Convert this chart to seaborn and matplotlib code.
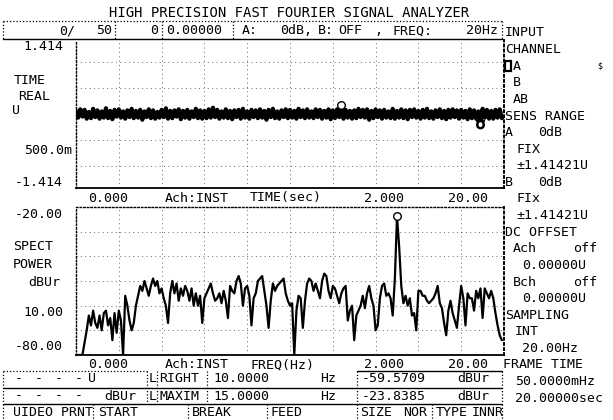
import numpy as np
import pandas as pd
import matplotlib
matplotlib.use("Agg")
import matplotlib.pyplot as plt
import seaborn as sns
from matplotlib.lines import Line2D
from matplotlib.patches import Rectangle

# ---------------- data ----------------
TIME_STEP = 0.1          # s
time_cv = [              # instantaneous voltage, centivolts
    6, -7, 9, -5, 8, -9, 4, -8, 10, -6, 7, -9, 5, -7, 11, -8, 6, -10, 8, -5,
    9, -7, 5, -9, 7, -6, 10, -8, 6, -7, 8, -11, 5, -6, 9, -8, 7, -9, 4, -7,
    8, -6, 11, -9, 6, -8, 7, -5, 9, -10, 6, -7, 8, -9, 5, -6, 10, -8, 7, -9,
    6, -8, 9, -7, 12, -6, 8, -9, 5, -7, 9, -8, 6, -10, 7, -6, 8, -9, 10, -7,
    5, -9, 8, -6, 7, -8, 9, -7, 6, -11, 8, -6, 10, -8, 5, -9, 7, -6, 9, -8,
    8, -7, 6, -9, 10, -6, 7, -8, 9, -7, 5, -8, 9, -6, 8, -9, 6, -7, 9, -10,
    7, -8, 9, -6, 13, -9, 8, -7, 6, -9, 7, -8, 10, -6, 8, -7, 9, -11, 6, -8,
    9, -6, 7, -9, 8, -7, 5, -8, 10, -9, 6, -7, 9, -8, 7, -10, 8, -6, 9, -7,
    6, -9, 8, -7, 10, -8, 5, -9, 7, -6, 9, -8, 6, -10, 8, -7, 9, -6, 7, -9,
    8, -7, 6, -10, 9, -8, 7, -9, 5, -12, 10, -7, 8, -9, 6, -9, 8, -7, 9, -8,
]
FREQ_STEP = 0.05         # Hz
spect_dbvr = [
    -80, -80, -80, -80, -75, -70, -64, -68, -62, -67,
    -69, -64, -70, -63, -62, -68, -65, -74, -63, -71,
    -62, -66, -80, -56, -60, -66, -70, -67, -60, -56,
    -52, -54, -50, -53, -56, -52, -49, -52, -50, -55,
    -53, -57, -60, -67, -55, -50, -55, -51, -58, -53,
    -56, -52, -54, -58, -53, -60, -55, -60, -56, -67,
    -57, -55, -53, -51, -55, -58,
    -57, -55, -59, -54, -58, -65, -52, -54, -55, -50,
    -48, -51, -60, -53, -52, -56, -68, -57, -55, -50,
    -49, -48, -54, -60, -69, -58, -51, -54, -52, -51,
    -50, -49, -55, -58, -60, -59, -80, -62, -56, -57,
    -69, -58, -51, -49, -50, -54, -51, -54, -57, -50,
    -47, -48, -54, -57, -52, -53, -56, -59, -55, -53,
    -52, -66, -62, -60, -74, -64, -62, -60, -56,
    -61, -55, -52, -57, -60, -70, -68, -57, -52, -51,
    -56, -55, -57, -64, -49, -23.84, -36, -52, -59, -56,
    -60, -57, -64, -63, -70, -54, -54, -56, -56, -58,
    -59, -58, -57, -55, -52, -59, -61, -67, -72, -62,
    -58, -63, -66, -69, -60, -52, -57, -68, -55, -57,
    -57, -62, -54, -57, -53, -65, -53, -55, -57, -54,
    -57, -63, -68, -72, -74,
]
time_marks_t = [12.4, 18.9]
time_marks_v = [0.17, -0.19]
spect_mark_f = [7.5]
spect_mark_db = [-23.84]

# ---------------- style ----------------
sns.set_style("white")
plt.rcParams['font.family'] = ['DejaVu Sans Mono', 'DejaVu Sans']
W, H = 613, 420
FS = 9.5
fig = plt.figure(figsize=(W / 100, H / 100), dpi=100)
fig.patch.set_facecolor("white")

def rect(l, t, r, b):
    return [l / W, 1 - b / H, (r - l) / W, (b - t) / H]

def T(x, y, s, ha="left", fs=FS, **kw):
    fig.text(x / W, 1 - y / H, s, ha=ha, va="center", fontsize=fs, color="k", **kw)

DOT = (0, (1, 1.6))
def L(x0, y0, x1, y1, ls="-", lw=0.9):
    fig.add_artist(Line2D([x0 / W, x1 / W], [1 - y0 / H, 1 - y1 / H],
                          color="k", lw=lw, ls=ls, transform=fig.transFigure))

ax1 = fig.add_axes(rect(76, 40, 504, 188))
ax2 = fig.add_axes(rect(76, 207, 504, 355))

df_t = pd.DataFrame({"t": np.arange(len(time_cv)) * TIME_STEP,
                     "v": np.array(time_cv) / 100.0})
df_f = pd.DataFrame({"f": np.arange(len(spect_dbvr)) * FREQ_STEP,
                     "db": spect_dbvr})

sns.lineplot(data=df_t, x="t", y="v", ax=ax1, color="k", lw=3.0, estimator=None)
sns.scatterplot(x=time_marks_t[:1], y=time_marks_v[:1], ax=ax1, marker="o",
                s=30, facecolors="white", edgecolor="k", linewidth=1.0, zorder=5)
ax1.plot(time_marks_t[1:], time_marks_v[1:], marker=r"$\mho$", ms=6,
         color="k", ls="none", zorder=5)

sns.lineplot(data=df_f, x="f", y="db", ax=ax2, color="k", lw=1.6, estimator=None)
sns.scatterplot(x=spect_mark_f, y=spect_mark_db, ax=ax2, marker="o",
                s=30, facecolors="white", edgecolor="k", linewidth=1.0, zorder=5)

ax1.set_xlim(0, 20); ax1.set_ylim(-1.414, 1.414)
ax1.set_xticks(np.arange(0, 21, 2)); ax1.set_yticks([-1, -0.5, 0, 0.5, 1])
ax2.set_xlim(0, 10); ax2.set_ylim(-80, -20)
ax2.set_xticks(np.arange(0, 11, 1)); ax2.set_yticks(np.arange(-80, -19, 10))

for ax in (ax1, ax2):
    ax.set_xlabel(""); ax.set_ylabel("")
    ax.set_xticklabels([]); ax.set_yticklabels([])
    ax.tick_params(length=0)
    ax.grid(True, color="k", ls=(0, (1, 3.5)), lw=0.7, alpha=0.6)
    ax.set_facecolor("white")
    for s in ("left", "right", "top"):
        ax.spines[s].set_linestyle(DOT)
        ax.spines[s].set_linewidth(1.0)
        ax.spines[s].set_color("k")
    ax.spines["bottom"].set_linewidth(1.3)
    ax.spines["bottom"].set_color("k")
    ax.spines["right"].set_linewidth(1.4)
ax1.spines["top"].set_visible(False)

# ---------------- title & header ----------------
T(289, 13, "HIGH PRECISION FAST FOURIER SIGNAL ANALYZER", ha="center", fs=10)
L(3, 21, 502, 21, ls=DOT)
L(3, 39, 502, 39, lw=1.0)
for x in (3, 115, 162, 233, 502):
    L(x, 21, x, 39, ls=DOT)
T(75, 31, "0/", ha="right")
T(112, 31, "50", ha="right")
T(158, 31, "0", ha="right")
T(166, 31, "0.00000")
T(242, 31, "A:")
T(280, 31, "0dB,")
T(318, 31, "B:")
T(338, 31, "OFF")
T(374, 31, ",")
T(392, 31, "FREQ:")
T(498, 31, "20Hz", ha="right")

# ---------------- left labels ----------------
T(63, 47, "1.414", ha="right")
T(14, 80, "TIME")
T(18, 97, "REAL")
T(12, 110, "U")
T(72, 150, "500.0m", ha="right")
T(63, 182, "-1.414", ha="right")

T(63, 215, "-20.00", ha="right")
T(13, 247, "SPECT")
T(13, 264, "POWER")
T(28, 282, "dBUr")
T(63, 313, "10.00", ha="right")
T(63, 347, "-80.00", ha="right")

# axis footer labels
for y, name in ((198, "TIME(sec)"), (365, "FREQ(Hz)")):
    T(108, y, "0.000", ha="center")
    T(165, y, "Ach:INST")
    T(250, y, name)
    T(384, y, "2.000", ha="center")
    T(468, y, "20.00", ha="center")

# ---------------- right panel ----------------
panel = [
    [(505, "INPUT")],
    [(505, "CHANNEL")],
    [(513, "A")],
    [(513, "B")],
    [(513, "AB")],
    [(505, "SENS RANGE")],
    [(505, "A"), (538, "0dB")],
    [(516, "FIX")],
    [(516, "±1.41421U")],
    [(505, "B"), (538, "0dB")],
    [(516, "FIx")],
    [(516, "±1.41421U")],
    [(505, "DC OFFSET")],
    [(513, "Ach"), (573, "off")],
    [(522, "0.00000U")],
    [(513, "Bch"), (573, "off")],
    [(522, "0.00000U")],
    [(505, "SAMPLING")],
    [(515, "INT")],
    [(522, "20.00Hz")],
    [(503, "FRAME TIME")],
    [(515, "50.0000mHz")],
    [(515, "20.00000sec")],
]
for i, items in enumerate(panel):
    y = 33 + 16.6 * i
    for x, s in items:
        T(x, y, s)
cy = 33 + 16.6 * 2
fig.add_artist(Rectangle(((505) / W, 1 - (cy + 5) / H), 6 / W, 10 / H,
                         transform=fig.transFigure, facecolor="white",
                         edgecolor="k", lw=1.6))
T(597, cy, "$", fs=6)

# ---------------- bottom boxes ----------------
L(3, 371, 147, 371, ls=DOT)
L(357, 371, 502, 371, lw=1.0)
L(3, 388, 502, 388, lw=1.0)
L(3, 404, 502, 404, lw=1.0)
for x in (3, 147, 157, 207, 357, 502):
    L(x, 371, x, 404, ls=DOT)
for x in (3, 93, 188, 267, 357, 432, 502):
    L(x, 404, x, 420, ls=DOT)

for y, unit_l, lab, num, db in ((379, "U", "RIGHT", "10.0000", "-59.5709"),
                                (396, "dBUr", "MAXIM", "15.0000", "-23.8385")):
    for dx in (15, 35, 55, 75):
        T(dx, y, "-")
    T(88 if unit_l == "U" else 104, y, unit_l)
    T(149, y, "L")
    T(159, y, lab)
    T(213, y, num)
    T(320, y, "Hz")
    T(362, y, db)
    T(457, y, "dBUr")

T(13, 412, "UIDEO PRNT")
T(98, 412, "START")
T(192, 412, "BREAK")
T(271, 412, "FEED")
T(360, 412, "SIZE")
T(403, 412, "NOR")
T(436, 412, "TYPE")
T(472, 412, "INNR")

fig.savefig("out.png", dpi=100, facecolor="white")
